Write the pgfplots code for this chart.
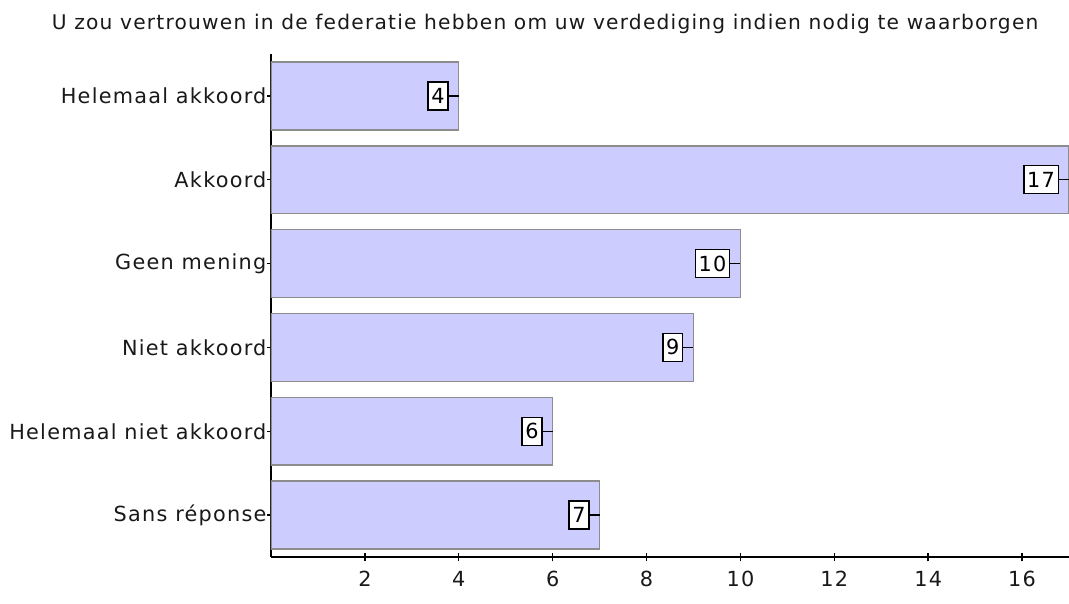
\documentclass[border=0pt]{standalone}
\usepackage{pgfplots}
\pgfplotsset{compat=1.18}
\usepackage{fontspec}
\setmainfont[LetterSpace=6]{DejaVu Sans}
\definecolor{barfill}{RGB}{204,204,255}
\definecolor{barline}{RGB}{140,140,140}
\definecolor{txt}{RGB}{25,25,25}
\pgfdeclareplotmark{pin}{\pgfpathmoveto{\pgfpoint{-7.5pt}{0pt}}\pgfpathlineto{\pgfpointorigin}\pgfusepathqstroke}
\begin{document}
\begin{tikzpicture}[font=\fontsize{15.6}{18}\selectfont]
\begin{axis}[name=ax, scale only axis, width=598.5pt, height=377.25pt,
  xmin=0, xmax=17, ymin=-0.5, ymax=5.5,
  axis x line=bottom, axis y line=left,
  axis line style={-, line width=1.1pt, black},
  xtick={2,4,...,16}, ytick={0,...,5},
  yticklabels={Sans réponse, Helemaal niet akkoord, Niet akkoord, Geen mening, Akkoord, Helemaal akkoord},
  tick align=center, major tick length=6.5pt,
  tick style={black, line width=1.1pt},
  /pgf/number format/assume math mode=true,
  xticklabel style={inner sep=0pt, yshift=-7pt, text=txt},
  yticklabel style={inner sep=0pt, text=txt},
  title={U zou vertrouwen in de federatie hebben om uw verdediging indien nodig te waarborgen},
  title style={at={(0.3435,1)}, anchor=base, yshift=12.5pt, inner sep=0pt, text=txt, font=\fontsize{15.15}{18}\selectfont},
]
\addplot[xbar, bar width=0.81, fill=barfill, draw=barline, line width=1.1pt,
  point meta=x, nodes near coords,
  every node near coord/.append style={anchor=east, xshift=-7.5pt, draw=black, fill=white, line width=1.1pt, inner xsep=2.5pt, inner ysep=0pt, minimum height=21pt, text=black}]
  coordinates {(7,0) (6,1) (9,2) (10,3) (17,4) (4,5)};
\addplot[only marks, mark=pin, mark options={black, line width=1pt}]
  coordinates {(7,0) (6,1) (9,2) (10,3) (17,4) (4,5)};
\end{axis}
\pgfresetboundingbox
\path[use as bounding box] ([xshift=-203.25pt, yshift=-34.5pt]ax.south west) rectangle ([xshift=598.5pt, yshift=417.75pt]ax.south west);
\end{tikzpicture}
\end{document}
